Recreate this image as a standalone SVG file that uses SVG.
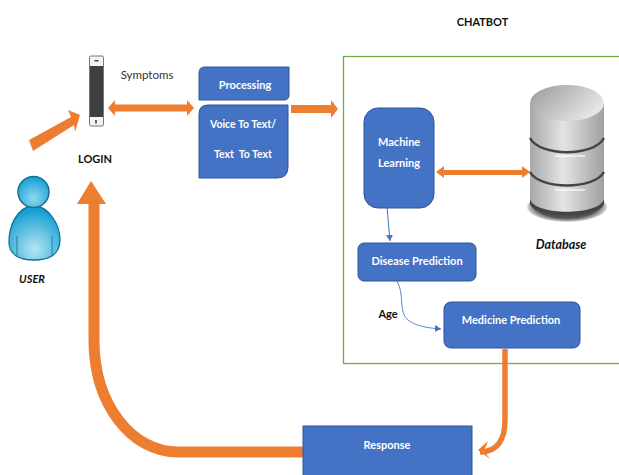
<svg xmlns="http://www.w3.org/2000/svg" width="619" height="475" viewBox="0 0 619 475">
<style>
.t{font-family:Lato,"Liberation Sans",sans-serif;font-weight:700;font-size:11px}
.w{fill:#fff;text-anchor:middle}
.n{fill:#4472c4;stroke:#2f5597;stroke-width:1}
.o{fill:#ed7d31}
</style>
<defs>
<radialGradient id="bl" cx="50%" cy="80%" r="70%"><stop offset="0" stop-color="#b4e5f4"/><stop offset="1" stop-color="#18a0d2"/></radialGradient>
<radialGradient id="bh" cx="50%" cy="70%" r="65%"><stop offset="0" stop-color="#8fd8f0"/><stop offset="1" stop-color="#1ba3d6"/></radialGradient>
<linearGradient id="cyl" x1="0" x2="1" y1="0" y2="0"><stop offset="0" stop-color="#a8a8a8"/><stop offset=".45" stop-color="#e4e4e4"/><stop offset="1" stop-color="#a0a0a0"/></linearGradient>
<linearGradient id="top" x1="0" x2="1" y1="0" y2="0.5"><stop offset="0" stop-color="#999"/><stop offset="1" stop-color="#e6e6e6"/></linearGradient>
<radialGradient id="sh"><stop offset="0" stop-color="#333"/><stop offset=".75" stop-color="#555"/><stop offset="1" stop-color="#ddd"/></radialGradient>
<marker id="ba" markerWidth="8" markerHeight="8" refX="6" refY="3.500" orient="auto" markerUnits="userSpaceOnUse"><path d="M0 0L6 3.500L0 7Z" fill="#4472c4"/></marker>
</defs>

<g id="chatbot-frame"><rect x="343.500" y="56.500" width="290" height="307" fill="#fff" stroke="#70ad47" stroke-width="1.300"/>
<text x="482.500" y="26" class="t" text-anchor="middle" fill="#111">CHATBOT</text></g>

<g id="connectors">
<polygon class="o" points="29,140 71,117 68,110 80,115 75,132 74,125 33,151"/>
<polygon class="o" points="108,108 115,100 115,104.500 187,104.500 187,100 194,108 187,116 187,111.500 115,111.500 115,116"/>
<polygon class="o" points="291,105 331,105 331,100 338,109 331,118 331,113 291,113"/>
<polygon class="o" points="436,172 444,166 444,170 522,170 522,166 530,172 522,178 522,175 444,175 444,178"/>
<path d="M304 452H178C132 452 94 405 94 340V201" fill="none" stroke="#ed7d31" stroke-width="11"/>
<polygon class="o" points="77,204 91,181 106,204"/>
<path d="M505 349V420C505 440 497 452 480 452" fill="none" stroke="#ed7d31" stroke-width="5.500"/>
<polygon class="o" points="478,450 488,441 484,451 490,459"/>
<path d="M387 207L390 241" fill="none" stroke="#4472c4" stroke-width="1" marker-end="url(#ba)"/>
<path d="M397 281C405 295 398 312 408 320C417 327 430 328 441 329" fill="none" stroke="#5b86d0" stroke-width="1" marker-end="url(#ba)"/>
</g>

<g id="login"><rect x="89.500" y="56" width="14" height="70" rx="1.500" fill="#f4f4f4" stroke="#555" stroke-width=".8"/><rect x="90" y="66" width="13" height="51" fill="#3f3f3f"/><rect x="94.500" y="60" width="4" height="1.500" fill="#444"/><rect x="95" y="120" width="2" height="3.500" fill="#666"/>
<text x="95" y="163" class="t" text-anchor="middle" fill="#111">LOGIN</text></g>
<text x="147" y="79" style="font-family:Lato,'Liberation Sans',sans-serif;font-size:11.500px" text-anchor="middle" fill="#333">Symptoms</text>

<g id="user"><path d="M34 205C15 208 9 228 9 242C9 255 20 260 34 260C48 260 60 255 60 240C60 225 50 208 34 205Z" fill="url(#bl)" stroke="#14708f" stroke-width="1.300"/>
<path d="M17 236V256M52 236V256" stroke="#14708f" stroke-width=".8"/>
<circle cx="33.500" cy="192" r="15.500" fill="url(#bh)" stroke="#14708f" stroke-width="1.500"/>
<text x="32" y="283" class="t" font-style="italic" text-anchor="middle" fill="#111">USER</text></g>

<g id="processing"><path d="M205 67H289V95Q289 100 284 100H199V73Q199 67 205 67Z" class="n"/><text x="245" y="89" class="t w">Processing</text></g>

<g id="voice"><path d="M208 105H288V167Q288 178 277 178H199V114Q199 105 208 105Z" class="n"/><text x="243" y="128" class="t w" style="font-size:10.500px">Voice To Text/</text><text x="243" y="158" class="t w" style="font-size:10.500px" xml:space="preserve">Text  To Text</text></g>

<g id="ml"><rect x="364" y="108" width="70" height="100" rx="14" class="n"/><text x="378" y="146" class="t" fill="#fff">Machine</text><text x="378" y="167" class="t" fill="#fff">Learning</text></g>

<g id="database">
<ellipse cx="567" cy="207" rx="40" ry="15" fill="url(#sh)"/>
<path d="M530 103V202C530 218 604 218 604 202V103Z" fill="url(#cyl)"/>
<path d="M530 199C534 216 600 216 604 199V204C600 219 534 219 530 204Z" fill="#444"/>
<path d="M530 138C540 157 594 157 604 138M530 172C540 190 594 190 604 172" fill="none" stroke="#444" stroke-width="2.500"/>
<path d="M555 156H585M555 190H585" stroke="#fff" stroke-width="1.500" opacity=".8"/>
<ellipse cx="567" cy="103" rx="37" ry="18" fill="url(#top)"/>
<text x="561" y="249" class="t" font-style="italic" style="font-size:12.500px" text-anchor="middle" fill="#111">Database</text></g>

<g id="disease"><rect x="358" y="243" width="118" height="38" rx="6" class="n"/><text x="417" y="265" class="t w">Disease Prediction</text></g>

<text x="388" y="318" class="t" text-anchor="middle" fill="#111">Age</text>

<g id="medicine"><rect x="444" y="302" width="136" height="46" rx="7" class="n"/><text x="511" y="324" class="t w">Medicine Prediction</text></g>

<g id="response"><rect x="303" y="426" width="169" height="52" class="n"/><text x="387" y="449" class="t w">Response</text></g>
</svg>
